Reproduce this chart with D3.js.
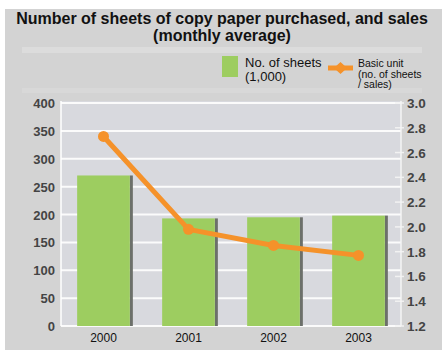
<!DOCTYPE html>
<html>
<head>
<meta charset="utf-8">
<script src="https://cdn.jsdelivr.net/npm/d3@7"></script>
<style>
  html, body { margin: 0; padding: 0; background: #ffffff; }
  svg { display: block; font-family: "Liberation Sans", Arial, sans-serif; }
</style>
</head>
<body>
<svg id="chart" width="442" height="350"></svg>
<script>
// Chart data
const years = ["2000", "2001", "2002", "2003"];
const sheets = [270, 193, 195, 198];          // No. of sheets (1,000)
const basicUnit = [2.73, 1.98, 1.85, 1.77];   // no. of sheets / sales
const leftTicks = [0, 50, 100, 150, 200, 250, 300, 350, 400];
const rightTicks = [1.2, 1.4, 1.6, 1.8, 2.0, 2.2, 2.4, 2.6, 2.8, 3.0];
const titleLines = ["Number of sheets of copy paper purchased, and sales", "(monthly average)"];
const legendBar = ["No. of sheets", "(1,000)"];
const legendLine = ["Basic unit", "(no. of sheets", "/ sales)"];

const svg = d3.select("#chart");
const plot = { left: 61, right: 401, top: 103, bottom: 326 };

const x = d3.scaleBand().domain(years).range([plot.left, plot.right]);
const yL = d3.scaleLinear().domain([0, 400]).range([plot.bottom, plot.top]);
const yR = d3.scaleLinear().domain([1.2, 3.0]).range([plot.bottom, plot.top]);

// Panel background
svg.append("rect").attr("x", 5).attr("y", 9).attr("width", 437).attr("height", 341).attr("fill", "#d3d3d3");
// faint light strips
svg.append("rect").attr("x", 22).attr("y", 47).attr("width", 400).attr("height", 6).attr("fill", "#dcdcdc");
svg.append("rect").attr("x", 22).attr("y", 88).attr("width", 400).attr("height", 5).attr("fill", "#d8d8d8");

// Title
svg.append("g").selectAll("text").data(titleLines).join("text")
  .attr("x", 222).attr("y", (d, i) => 24 + i * 17)
  .attr("text-anchor", "middle")
  .attr("font-size", 16).attr("font-weight", "bold").attr("fill", "#111")
  .text(d => d);

// Plot area
svg.append("rect")
  .attr("x", plot.left).attr("y", plot.top - 2)
  .attr("width", plot.right - plot.left).attr("height", plot.bottom - plot.top + 2)
  .attr("fill", "#d8d9de");

// Gridlines
svg.append("g").selectAll("line").data(leftTicks).join("line")
  .attr("x1", plot.left).attr("x2", plot.right)
  .attr("y1", d => yL(d)).attr("y2", d => yL(d))
  .attr("stroke", "#ffffff").attr("stroke-width", 2).attr("opacity", 0.9);
// Right axis tick marks
svg.append("g").selectAll("line").data(rightTicks).join("line")
  .attr("x1", plot.right - 6).attr("x2", plot.right + 3)
  .attr("y1", d => yR(d)).attr("y2", d => yR(d))
  .attr("stroke", "#f2f2f2").attr("stroke-width", 1.5);
// Frame sides
svg.append("line").attr("x1", plot.left).attr("x2", plot.left)
  .attr("y1", plot.top - 2).attr("y2", plot.bottom).attr("stroke", "#fff").attr("stroke-width", 1.5);
svg.append("line").attr("x1", plot.right).attr("x2", plot.right)
  .attr("y1", plot.top - 2).attr("y2", plot.bottom).attr("stroke", "#f4f4f4").attr("stroke-width", 1.5);

// Bars with dark side shading
const barW = x.bandwidth() * 0.62;
const bars = svg.append("g").selectAll("g").data(years).join("g");
bars.append("rect")
  .attr("x", (d, i) => x(d) + x.bandwidth() / 2 + barW / 2)
  .attr("y", (d, i) => yL(sheets[i]))
  .attr("width", 3)
  .attr("height", (d, i) => yL(0) - yL(sheets[i]))
  .attr("fill", "#6c706a");
bars.append("rect")
  .attr("x", d => x(d) + x.bandwidth() / 2 - barW / 2)
  .attr("y", (d, i) => yL(sheets[i]))
  .attr("width", barW)
  .attr("height", (d, i) => yL(0) - yL(sheets[i]))
  .attr("fill", "#9dcd60");

// Basic unit line
const orange = "#f5922a";
const line = d3.line()
  .x((d, i) => x(years[i]) + x.bandwidth() / 2)
  .y(d => yR(d));
svg.append("path").datum(basicUnit)
  .attr("d", line)
  .attr("fill", "none").attr("stroke", orange)
  .attr("stroke-width", 5).attr("stroke-linejoin", "round");
svg.append("g").selectAll("circle").data(basicUnit).join("circle")
  .attr("cx", (d, i) => x(years[i]) + x.bandwidth() / 2)
  .attr("cy", d => yR(d))
  .attr("r", 5.5).attr("fill", orange);

// Left axis labels
svg.append("g").selectAll("text").data(leftTicks).join("text")
  .attr("x", 55).attr("y", d => yL(d) + 5)
  .attr("text-anchor", "end")
  .attr("font-size", 13).attr("font-weight", "bold").attr("fill", "#444")
  .text(d => d);

// Right axis labels
svg.append("g").selectAll("text").data(rightTicks).join("text")
  .attr("x", 407).attr("y", d => yR(d) + 5)
  .attr("font-size", 13.5).attr("font-weight", "bold").attr("fill", "#444")
  .text(d => d3.format(".1f")(d));

// Category labels
svg.append("g").selectAll("text").data(years).join("text")
  .attr("x", d => x(d) + x.bandwidth() / 2)
  .attr("y", 342)
  .attr("text-anchor", "middle")
  .attr("font-size", 12).attr("fill", "#111")
  .text(d => d);

// Legend: bars
svg.append("rect").attr("x", 222).attr("y", 56).attr("width", 16).attr("height", 21).attr("fill", "#9dcd60");
svg.append("g").selectAll("text").data(legendBar).join("text")
  .attr("x", 245).attr("y", (d, i) => 67 + i * 14)
  .attr("font-size", 13).attr("fill", "#111")
  .text(d => d);

// Legend: line
svg.append("line").attr("x1", 328).attr("x2", 353).attr("y1", 68).attr("y2", 68)
  .attr("stroke", orange).attr("stroke-width", 5);
svg.append("path").attr("d", "M340.5,62 L347,68 L340.5,74 L334,68 Z").attr("fill", orange);
svg.append("g").selectAll("text").data(legendLine).join("text")
  .attr("x", 358).attr("y", (d, i) => 67 + i * 10.5)
  .attr("font-size", 10.5).attr("fill", "#111")
  .text(d => d);
</script>
</body>
</html>
